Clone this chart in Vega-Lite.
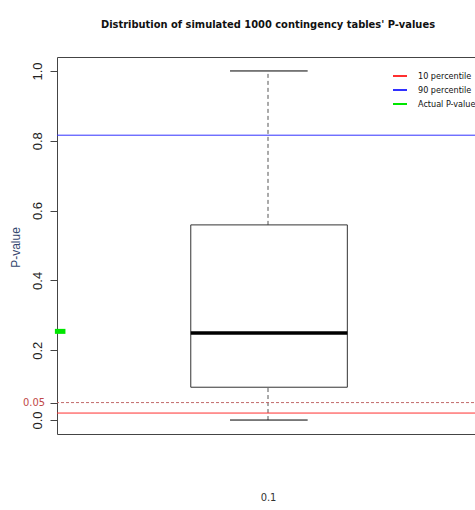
{
  "$schema": "https://vega.github.io/schema/vega-lite/v6.json",
  "autosize": {"type": "none"},
  "padding": {"left": 57, "top": 57, "right": 0, "bottom": 76},
  "width": 422,
  "height": 377,
  "background": "white",
  "config": {
    "view": {"stroke": "#444444", "strokeWidth": 1},
    "font": "DejaVu Sans Condensed"
  },
  "title": {
    "text": "Distribution of simulated 1000 contingency tables' P-values",
    "font": "DejaVu Sans Condensed",
    "fontSize": 11,
    "fontWeight": "bold",
    "color": "#111111",
    "anchor": "middle",
    "offset": 27
  },
  "datasets": {
    "box": [{"lo": 0, "q1": 0.094, "med": 0.249, "q3": 0.559, "hi": 1.0, "left": 0.817, "right": 1.188, "capL": 0.91, "capR": 1.094, "mid": 1.0}],
    "ref": [
      {"series": "10 percentile", "p": 0.02},
      {"series": "90 percentile", "p": 0.816}
    ],
    "actual": [{"series": "Actual P-value", "p": 0.254, "xa": 0.495, "xb": 0.52}],
    "cut": [{"p": 0.05, "xa": 0.5, "label": "0.05"}]
  },
  "layer": [
    {
      "data": {"name": "box"},
      "mark": {"type": "rule", "color": "#555555", "strokeDash": [4, 3], "strokeWidth": 1},
      "encoding": {
        "x": {"field": "mid", "type": "quantitative", "scale": {"domain": [0.5, 1.5], "nice": false, "zero": false},
          "axis": {"domain": false, "ticks": false, "labels": false, "grid": false, "title": "0.1", "titlePadding": 57, "titleFont": "DejaVu Sans Condensed", "titleFontSize": 11, "titleFontWeight": "normal", "titleColor": "#333333"}},
        "y": {"field": "q3", "type": "quantitative", "scale": {"domain": [-0.04, 1.04], "nice": false, "zero": false},
          "axis": {"values": [0, 0.05, 0.2, 0.4, 0.6, 0.8, 1.0], "format": ".1f", "labelExpr": "datum.value == 0.05 ? '' : datum.label", "domain": false, "grid": false, "tickColor": "#444444", "tickSize": 7, "labelAngle": 270, "labelAlign": "center", "labelBaseline": "bottom", "labelPadding": 6, "labelFont": "Liberation Sans", "labelFontSize": 13, "labelColor": "#222222", "title": "P-value", "titleFont": "Liberation Sans", "titleFontSize": 12, "titleFontWeight": "normal", "titleColor": "#34466e", "titleAngle": 270, "titleX": -42, "titleY": 190, "titleAlign": "center", "titleBaseline": "middle"}},
        "y2": {"field": "hi"}
      }
    },
    {
      "data": {"name": "box"},
      "mark": {"type": "rule", "color": "#555555", "strokeDash": [4, 3], "strokeWidth": 1},
      "encoding": {
        "x": {"field": "mid", "type": "quantitative"},
        "y": {"field": "lo", "type": "quantitative"},
        "y2": {"field": "q1"}
      }
    },
    {
      "data": {"name": "box"},
      "mark": {"type": "rule", "color": "#000000", "strokeWidth": 1},
      "encoding": {
        "x": {"field": "capL", "type": "quantitative"},
        "x2": {"field": "capR"},
        "y": {"field": "hi", "type": "quantitative"}
      }
    },
    {
      "data": {"name": "box"},
      "mark": {"type": "rule", "color": "#000000", "strokeWidth": 1},
      "encoding": {
        "x": {"field": "capL", "type": "quantitative"},
        "x2": {"field": "capR"},
        "y": {"field": "lo", "type": "quantitative"}
      }
    },
    {
      "data": {"name": "box"},
      "mark": {"type": "rect", "fill": "white", "stroke": "#333333", "strokeWidth": 1},
      "encoding": {
        "x": {"field": "left", "type": "quantitative"},
        "x2": {"field": "right"},
        "y": {"field": "q1", "type": "quantitative"},
        "y2": {"field": "q3"}
      }
    },
    {
      "data": {"name": "box"},
      "mark": {"type": "rule", "color": "#000000", "strokeWidth": 3.5},
      "encoding": {
        "x": {"field": "left", "type": "quantitative"},
        "x2": {"field": "right"},
        "y": {"field": "med", "type": "quantitative"}
      }
    },
    {
      "data": {"name": "cut"},
      "mark": {"type": "rule", "color": "#c06a6a", "strokeDash": [3, 2], "strokeWidth": 1},
      "encoding": {
        "y": {"field": "p", "type": "quantitative"}
      }
    },
    {
      "data": {"name": "cut"},
      "mark": {"type": "text", "color": "#c04848", "align": "right", "baseline": "middle", "dx": -12, "font": "DejaVu Sans Condensed", "fontSize": 11},
      "encoding": {
        "x": {"field": "xa", "type": "quantitative"},
        "y": {"field": "p", "type": "quantitative"},
        "text": {"field": "label"}
      }
    },
    {
      "data": {"name": "ref"},
      "mark": {"type": "rule", "strokeWidth": 1},
      "encoding": {
        "y": {"field": "p", "type": "quantitative"},
        "color": {"field": "series", "type": "nominal",
          "scale": {"domain": ["10 percentile", "90 percentile", "Actual P-value"], "range": ["#ff3030", "#3030ff", "#00e600"]},
          "legend": {"title": null, "orient": "none", "legendX": 335, "legendY": 11, "symbolType": "stroke", "symbolSize": 196, "symbolStrokeWidth": 2, "labelFont": "DejaVu Sans Condensed", "labelFontSize": 9, "labelColor": "#111111", "rowPadding": 1, "labelOffset": 10}}
      }
    },
    {
      "data": {"name": "actual"},
      "mark": {"type": "rule", "strokeWidth": 5},
      "encoding": {
        "x": {"field": "xa", "type": "quantitative"},
        "x2": {"field": "xb"},
        "y": {"field": "p", "type": "quantitative"},
        "color": {"field": "series", "type": "nominal"}
      }
    }
  ]
}
